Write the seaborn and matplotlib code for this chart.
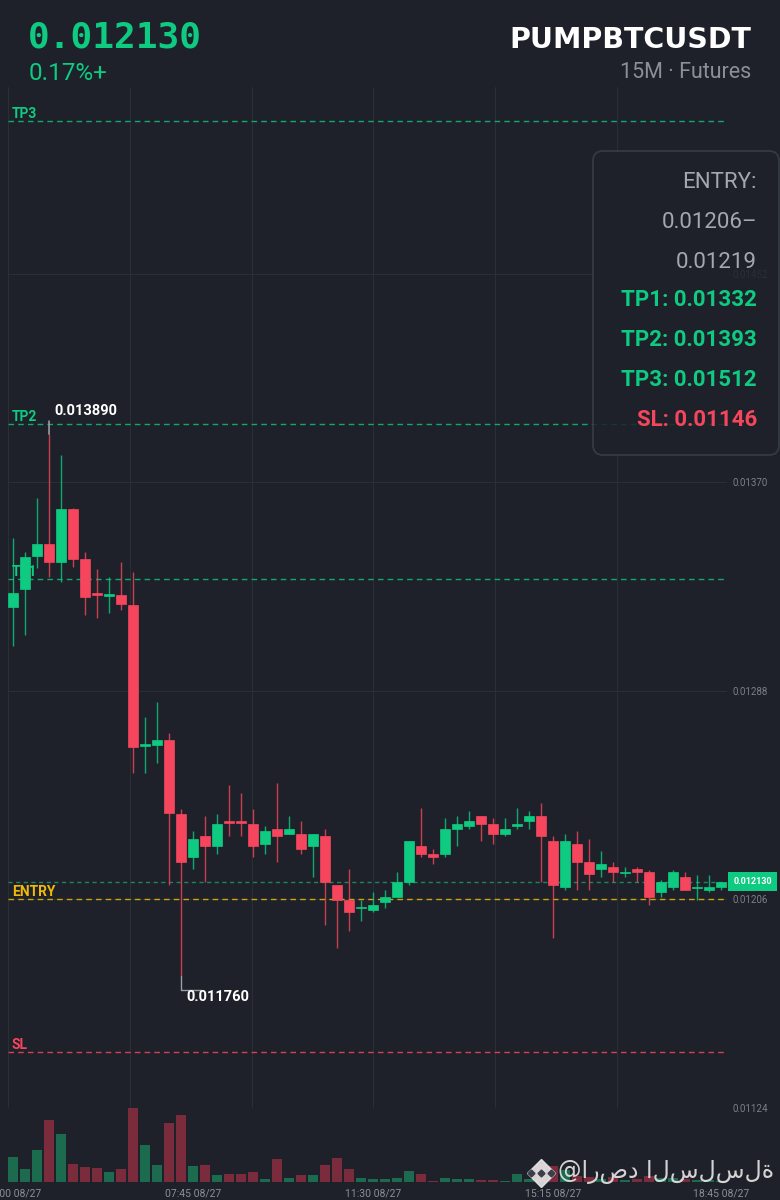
import numpy as np
import pandas as pd
import seaborn as sns
import matplotlib.pyplot as plt
from matplotlib.patches import FancyBboxPatch

# PUMPBTCUSDT 15m candles, 27 Aug 04:00 -> 18:45
opens = [0.013210, 0.013279, 0.013410, 0.013457, 0.013389, 0.013597, 0.013397, 0.013267, 0.013255, 0.013257,
         0.013218, 0.012665, 0.012669, 0.012688, 0.012397, 0.012229, 0.012308, 0.012269, 0.012367, 0.012367,
         0.012358, 0.012279, 0.012338, 0.012319, 0.012319, 0.012269, 0.012308, 0.012118, 0.012059, 0.012025,
         0.012018, 0.012049, 0.012068, 0.012128, 0.012269, 0.012238, 0.012238, 0.012338, 0.012348, 0.012388,
         0.012358, 0.012319, 0.012348, 0.012368, 0.012388, 0.012288, 0.012108, 0.012278, 0.012208, 0.012178,
         0.012187, 0.012165, 0.012178, 0.012167, 0.012089, 0.012108, 0.012148, 0.012106, 0.012098, 0.012108]
highs = [0.013480, 0.013427, 0.013638, 0.013890, 0.013807, 0.013600, 0.013427, 0.013358, 0.013328, 0.013389,
         0.013348, 0.012777, 0.012838, 0.012716, 0.012417, 0.012328, 0.012388, 0.012397, 0.012509, 0.012478,
         0.012417, 0.012347, 0.012518, 0.012388, 0.012367, 0.012319, 0.012338, 0.012118, 0.012178, 0.012059,
         0.012088, 0.012099, 0.012169, 0.012288, 0.012418, 0.012258, 0.012379, 0.012388, 0.012409, 0.012388,
         0.012379, 0.012379, 0.012418, 0.012409, 0.012439, 0.012308, 0.012319, 0.012328, 0.012299, 0.012249,
         0.012207, 0.012187, 0.012187, 0.012177, 0.012138, 0.012177, 0.012167, 0.012157, 0.012157, 0.012130]
lows = [0.013056, 0.013099, 0.013362, 0.013328, 0.013309, 0.013368, 0.013177, 0.013168, 0.013188, 0.013197,
        0.012559, 0.012559, 0.012598, 0.012118, 0.011760, 0.012178, 0.012128, 0.012237, 0.012308, 0.012308,
        0.012229, 0.012237, 0.012208, 0.012319, 0.012237, 0.012148, 0.011958, 0.011868, 0.011938, 0.011977,
        0.012009, 0.012027, 0.012068, 0.012118, 0.012228, 0.012198, 0.012228, 0.012269, 0.012338, 0.012288,
        0.012278, 0.012308, 0.012338, 0.012338, 0.012128, 0.011908, 0.012098, 0.012098, 0.012098, 0.012148,
        0.012128, 0.012148, 0.012128, 0.012039, 0.012069, 0.012099, 0.012098, 0.012059, 0.012089, 0.012098]
closes = [0.013267, 0.013408, 0.013457, 0.013389, 0.013597, 0.013399, 0.013250, 0.013259, 0.013259, 0.013220,
          0.012659, 0.012669, 0.012687, 0.012400, 0.012208, 0.012299, 0.012269, 0.012358, 0.012359, 0.012359,
          0.012269, 0.012328, 0.012309, 0.012338, 0.012260, 0.012319, 0.012128, 0.012059, 0.012009, 0.012029,
          0.012038, 0.012068, 0.012128, 0.012288, 0.012238, 0.012228, 0.012338, 0.012358, 0.012368, 0.012358,
          0.012319, 0.012338, 0.012358, 0.012388, 0.012308, 0.012118, 0.012288, 0.012208, 0.012159, 0.012198,
          0.012167, 0.012167, 0.012167, 0.012069, 0.012128, 0.012167, 0.012098, 0.012108, 0.012108, 0.012130]
volumes = [247, 127, 323, 617, 477, 180, 153, 137, 100, 127,
           740, 367, 173, 587, 667, 157, 170, 67, 77, 83,
           97, 33, 227, 43, 67, 70, 167, 240, 127, 43,
           27, 30, 43, 107, 83, 13, 37, 33, 30, 23,
           23, 13, 77, 33, 183, 160, 120, 60, 50, 30,
           50, 20, 30, 60, 40, 40, 30, 20, 20, 15]

tick_labels = ["04:00 08/27", "07:45 08/27", "11:30 08/27", "15:15 08/27", "18:45 08/27"]
price_ticks = [0.01124, 0.01206, 0.01288, 0.01370, 0.01452]

symbol = "PUMPBTCUSDT"
timeframe = "15M · Futures"
last_price = 0.012130
change_txt = "0.17%+"
entry_lo, entry_hi = 0.01206, 0.01219
tp_levels = [0.01332, 0.01393, 0.01512]
sl_level = 0.01146
watermark = "@ارصد السلسلة"

BG = "#1e2129"
GRID = "#2a2e35"
GREEN = "#0ecb81"
RED = "#f6465d"
YELLOW = "#f0b90b"
VGREEN = "#1c6b4f"
VRED = "#7a2c3c"

sns.set_theme(style="darkgrid", rc={
    "axes.facecolor": BG, "figure.facecolor": BG, "grid.color": GRID,
    "grid.linewidth": 0.8, "axes.edgecolor": BG, "patch.edgecolor": "none",
})
plt.rcParams["font.family"] = ["Roboto", "DejaVu Sans"]

o = np.array(opens)
h = np.array(highs)
lo = np.array(lows)
c = np.array(closes)
n = len(o)
idx = np.arange(n)
times = pd.date_range("2024-08-27 04:00", periods=n, freq="15min")
up = c >= o
colors = np.where(up, GREEN, RED)

W, H = 780, 1200
def box(l, t, r, b):
    return [l / W, 1 - b / H, (r - l) / W, (b - t) / H]

fig = plt.figure(figsize=(W / 100, H / 100), dpi=100)
ax = fig.add_axes(box(8, 87, 727, 1108))
axv = fig.add_axes(box(8, 1108, 727, 1182))

xlo, xhi = -0.42, 59.5

# candles
ax.vlines(idx, lo, h, colors=colors, lw=1.0, alpha=0.8, zorder=3)
body = np.maximum(np.abs(c - o), 0.000005)
ax.bar(idx, body, bottom=np.minimum(o, c), width=0.8, color=colors,
       edgecolor=colors, linewidth=0.5, zorder=4)

# levels
dash = (0, (4, 3))
for name, lvl in zip(["TP1", "TP2", "TP3"], tp_levels):
    ax.axhline(lvl, color=GREEN, lw=1.0, ls=dash, alpha=0.8, zorder=1)
    ax.annotate(name, xy=(0, lvl), xycoords=ax.get_yaxis_transform(), xytext=(4, 3),
                textcoords="offset pixels", va="baseline", color=GREEN, fontsize=10,
                fontweight="bold", zorder=2)
ax.axhline(entry_lo, color=YELLOW, lw=1.0, ls=dash, alpha=0.85, zorder=1)
ax.annotate("ENTRY", xy=(0, entry_lo), xycoords=ax.get_yaxis_transform(), xytext=(4, 3),
            textcoords="offset pixels", va="baseline", color=YELLOW, fontsize=10, fontweight="bold")
ax.axhline(sl_level, color=RED, lw=1.0, ls=dash, alpha=0.85, zorder=1)
ax.annotate("SL", xy=(0, sl_level), xycoords=ax.get_yaxis_transform(), xytext=(4, 3),
            textcoords="offset pixels", va="baseline", color=RED, fontsize=10, fontweight="bold")
ax.axhline(last_price, color="#1f9e6e", lw=1.0, ls=(0, (3, 2.5)), alpha=0.8, zorder=1)
ax.text(1.0355, last_price, f"{last_price:.6f}", transform=ax.get_yaxis_transform(),
        ha="center", va="center", color="white", fontsize=6.5, fontweight="bold",
        bbox=dict(boxstyle="square,pad=0.55", fc=GREEN, ec="none"), clip_on=False)

# high / low markers
hi_i, lo_i = int(np.argmax(h)), int(np.argmin(lo))
ax.annotate("", xy=(hi_i, h[hi_i]), xytext=(0, 13), textcoords="offset pixels",
            arrowprops=dict(arrowstyle="-", color="#9a9ea5", lw=1.2, shrinkA=0, shrinkB=0))
ax.annotate(f"{h[hi_i]:.6f}", xy=(hi_i, h[hi_i]), xytext=(5, 23), textcoords="offset pixels",
            ha="left", va="center", color="white", fontsize=10.5, fontweight="bold")
ax.annotate("", xy=(lo_i, lo[lo_i]), xytext=(20, -14), textcoords="offset pixels",
            arrowprops=dict(arrowstyle="-", color="#9a9ea5", lw=1.0, shrinkA=0, shrinkB=0,
                            connectionstyle="angle,angleA=0,angleB=90,rad=0"))
ax.annotate(f"{lo[lo_i]:.6f}", xy=(lo_i, lo[lo_i]), xytext=(5, -21), textcoords="offset pixels",
            ha="left", va="center", color="white", fontsize=10.5, fontweight="bold")

ax.set_xlim(xlo, xhi)
ax.set_ylim(0.01124, 0.015255)
ax.set_xticks(np.linspace(xlo, xlo + 5 * 10.15, 6))
ax.set_yticks(price_ticks)
ax.set_yticklabels([f"{v:.5f}" for v in price_ticks])
ax.yaxis.tick_right()
ax.tick_params(axis="y", length=0, pad=4, labelsize=7, labelcolor="#7b7f86")
ax.tick_params(axis="x", length=0, labelbottom=False)
for s in ax.spines.values():
    s.set_visible(False)

# volume
vol_df = pd.DataFrame({"idx": idx, "volume": volumes, "side": np.where(up, "up", "down")})
sns.barplot(data=vol_df, x="idx", y="volume", hue="side", palette={"up": VGREEN, "down": VRED},
            native_scale=True, dodge=False, width=0.8, saturation=1, errorbar=None,
            legend=False, linewidth=0, edgecolor="none", ax=axv)
axv.grid(False)
axv.set_xlim(xlo, xhi)
axv.set_ylim(0, max(volumes))
axv.set_xlabel("")
axv.set_ylabel("")
axv.set_yticks([])
tick_pos = [int(np.where(times.strftime("%H:%M %m/%d") == t)[0][0]) for t in tick_labels]
axv.set_xticks(tick_pos)
axv.set_xticklabels(tick_labels)
axv.tick_params(axis="x", length=0, pad=5, labelsize=7.5, labelcolor="#8a8e95")
for s in axv.spines.values():
    s.set_visible(False)

# overlay in pixel coordinates for header, info box, watermark
ov = fig.add_axes([0, 0, 1, 1])
ov.set_xlim(0, W)
ov.set_ylim(H, 0)
ov.axis("off")
ov.patch.set_alpha(0)

ov.text(28, 38, f"{last_price:.6f}", family="DejaVu Sans Mono", fontweight="bold",
        fontsize=26, color=GREEN, va="center", ha="left")
ov.text(29, 74, change_txt, fontsize=17.5, color=GREEN, va="center", ha="left")
ov.text(751, 40, symbol, family="DejaVu Sans", fontweight="bold", fontsize=20.5,
        color="white", va="center", ha="right")
ov.text(751, 73, timeframe, fontsize=15.5, color="#8b8f96", va="center", ha="right")

ov.add_patch(FancyBboxPatch((593, 151), 186, 304, boxstyle="round,pad=0,rounding_size=10",
                            fc=BG, ec="#3a3e46", lw=1.3, alpha=0.86))
info = [("ENTRY:", "#a3a7ae", "normal"),
        (f"{entry_lo:.5f}–", "#a3a7ae", "normal"),
        (f"{entry_hi:.5f}", "#a3a7ae", "normal"),
        (f"TP1: {tp_levels[0]:.5f}", GREEN, "bold"),
        (f"TP2: {tp_levels[1]:.5f}", GREEN, "bold"),
        (f"TP3: {tp_levels[2]:.5f}", GREEN, "bold"),
        (f"SL: {sl_level:.5f}", RED, "bold")]
for k, (txt, col, wt) in enumerate(info):
    ov.text(757, 182 + k * 40 - (2 if k > 2 else 0), txt, fontsize=16, color=col,
            fontweight=wt, ha="right", va="center")

# watermark with logo
ov.plot([541], [1173], marker="D", ms=14, color="#e8e8e8", alpha=0.9)
ov.plot([531, 541, 551], [1173, 1173, 1173], ls="none", marker="D", ms=3.5, color="#3a3e46")
ov.text(558, 1172, watermark, family="DejaVu Sans", fontsize=17, color="#e8e8e8",
        alpha=0.9, ha="left", va="center")

fig.savefig("out.png", dpi=100, facecolor=BG)
